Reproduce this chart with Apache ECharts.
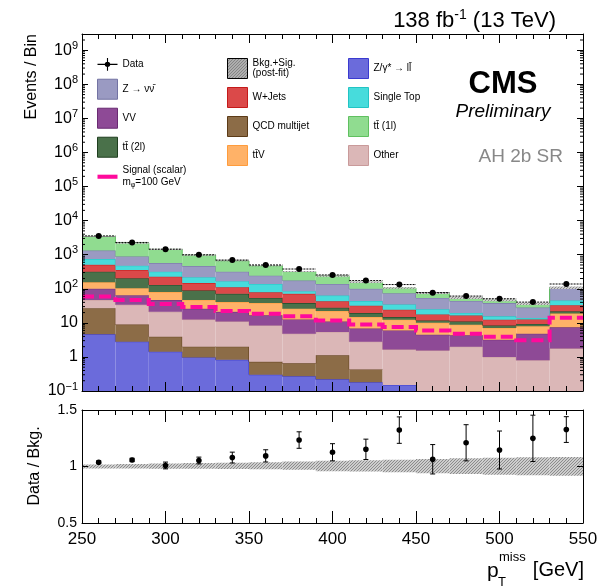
<!DOCTYPE html>
<html>
<head>
<meta charset="utf-8">
<script src="https://cdn.jsdelivr.net/npm/echarts@6/dist/echarts.min.js"></script>
<style>
  html, body { margin: 0; padding: 0; background: #fff; }
  #chart { width: 601px; height: 587px; }
</style>
</head>
<body>
<div id="chart"></div>
<script>
// Binning in missing transverse momentum [GeV]
const binEdges = [250, 270, 290, 310, 330, 350, 370, 390, 410, 430, 450, 470, 490, 510, 530, 550];

// Background yields per bin (events / bin), listed from the bottom of the stack upwards
const zll   = [4.6, 2.8, 1.42, 0.97, 0.82, 0.30, 0.27, 0.22, 0.18, 0.15, 0, 0, 0, 0, 0];
const qcd   = [22.4, 6.1, 2.5, 1.03, 1.18, 0.42, 0.38, 0.90, 0.25, 0, 0, 0, 0, 0, 0];
const other = [20, 25, 17.1, 10.5, 9.0, 7.7, 4.15, 4.3, 2.37, 1.5, 1.55, 2.0, 1.0, 0.8, 1.77];
const vv    = [53, 31, 26, 13.5, 10, 8.2, 7.8, 5.6, 4.0, 4.35, 2.95, 2.3, 2.2, 4.0, 5.6];
const ttv   = [55, 39, 33, 21, 19.6, 21.4, 13.4, 11.3, 8.0, 6.4, 5.5, 4.5, 3.9, 3.2, 11.6];
const tt2l  = [162, 100, 50, 42, 30.4, 16, 12, 5.4, 4.6, 2.4, 1.8, 2.2, 1.3, 1.3, 3];
const wjets = [188, 151, 97, 58, 40, 25, 33, 15.3, 12.6, 9.5, 5.9, 5.5, 4.0, 3.3, 11];
const stop  = [240, 120, 90, 71, 56, 59, 14, 20, 11.6, 10.3, 7.3, 3.0, 3.1, 1.3, 12];
const znn   = [575, 415, 253, 247, 150, 105, 89, 75, 56, 39.4, 29, 24.5, 22.5, 14.1, 60];
const tt1l  = [2130, 1310, 860, 495, 343, 227, 146, 97, 55, 31, 21, 10, 8, 8, 3];

// Observed events and the scalar mediator signal (m_phi = 100 GeV)
const dataYield   = [3550, 2290, 1455, 994, 697, 500, 380, 254, 174, 133, 77, 61, 51, 40.6, 138];
const signalYield = [59, 47, 36, 29, 22.3, 18.5, 15.5, 11.8, 9.0, 7.6, 6.0, 4.8, 3.9, 3.1, 14.2];

// Lower panel: data / background with statistical errors, and the post-fit band
const ratioValue = [1.038, 1.058, 1.009, 1.053, 1.079, 1.094, 1.234, 1.126, 1.152, 1.322, 1.064, 1.21, 1.146, 1.249, 1.327];
const ratioError = [0.012, 0.015, 0.03, 0.03, 0.048, 0.054, 0.073, 0.076, 0.09, 0.117, 0.13, 0.16, 0.168, 0.205, 0.114];
const bandLow  = [0.982, 0.982, 0.981, 0.98, 0.978, 0.976, 0.972, 0.958, 0.955, 0.95, 0.94, 0.933, 0.928, 0.922, 0.918];
const bandHigh = [1.018, 1.022, 1.026, 1.03, 1.034, 1.038, 1.044, 1.05, 1.055, 1.06, 1.066, 1.072, 1.077, 1.082, 1.085];

// Axis tick values
const xTicks = [250, 300, 350, 400, 450, 500, 550];
const ratioTicks = [0.5, 1, 1.5];

const FONT = '"Liberation Sans", Arial, Helvetica, sans-serif';
const LOGMIN = -1;                 // 10^-1
const LOGMAX = Math.log10(3e9);    // top of the upper panel
const lg = v => (v > 0 ? Math.max(Math.log10(v), LOGMIN - 1) : LOGMIN - 1);
const nBins = binEdges.length - 1;

const NAMES = {
  data: 'Data', band: 'Bkg.+Sig. (post-fit)', zll: 'Z/γ* → ll̄', znn: 'Z → νν̄',
  w: 'W+Jets', st: 'Single Top', vv: 'VV', qcd: 'QCD multijet',
  tt1: 'tt̄ (1l)', tt2: 'tt̄ (2l)', ttv: 'tt̄V', other: 'Other', sig: 'Signal (scalar)'
};

const processes = [
  { name: NAMES.zll,   values: zll,   color: '#6b6bdb', border: '#3a3ad0' },
  { name: NAMES.qcd,   values: qcd,   color: '#8c6c47', border: '#5c3b17' },
  { name: NAMES.other, values: other, color: '#dbb7b7', border: '#c99a9a' },
  { name: NAMES.vv,    values: vv,    color: '#8e4a96', border: '#6a2a72' },
  { name: NAMES.ttv,   values: ttv,   color: '#ffb268', border: '#ff9c3c' },
  { name: NAMES.tt2,   values: tt2l,  color: '#4a714a', border: '#1f3f1f' },
  { name: NAMES.w,     values: wjets, color: '#db4949', border: '#c41a1a' },
  { name: NAMES.st,    values: stop,  color: '#47dcdc', border: '#22c4c4' },
  { name: NAMES.znn,   values: znn,   color: '#9a9ac2', border: '#7373a3' },
  { name: NAMES.tt1,   values: tt1l,  color: '#90dc90', border: '#60c060' }
];

// cumulative stack boundaries
let running = new Array(nBins).fill(0);
processes.forEach(p => {
  p.lower = running.slice();
  running = running.map((v, i) => v + p.values[i]);
  p.upper = running.slice();
});
const bkgTotal = running;

// hatch patterns
function hatch(stroke, bg, step) {
  const c = document.createElement('canvas');
  c.width = c.height = step;
  const ctx = c.getContext('2d');
  if (bg) { ctx.fillStyle = bg; ctx.fillRect(0, 0, step, step); }
  ctx.strokeStyle = stroke;
  ctx.lineWidth = 1;
  ctx.beginPath();
  ctx.moveTo(0, step); ctx.lineTo(step, 0);
  ctx.moveTo(-1, 1); ctx.lineTo(1, -1);
  ctx.moveTo(step - 1, step + 1); ctx.lineTo(step + 1, step - 1);
  ctx.stroke();
  return { image: c, repeat: 'repeat' };
}
const hatchDark = hatch('#333', '#d8d8d8', 3);
const hatchGrey = hatch('#8c8c8c', '#cdcdcd', 3);

// ---- series ----
const series = [];

processes.forEach(p => {
  series.push({
    type: 'custom', name: p.name, xAxisIndex: 0, yAxisIndex: 0, z: 2, clip: true, silent: true,
    itemStyle: { color: p.color, borderColor: p.border },
    encode: { x: [0, 1], y: [2, 3] },
    data: p.values.map((_, i) => [binEdges[i], binEdges[i + 1], lg(p.lower[i]), lg(p.upper[i]), i > 0 ? lg(p.upper[i - 1]) : lg(p.upper[i])]),
    renderItem: (params, api) => {
      const x0 = api.value(0), x1 = api.value(1), yb = api.value(2), yt = api.value(3), yp = api.value(4);
      if (!(yt > yb)) return null;
      const tl = api.coord([x0, yt]), br = api.coord([x1, yb]);
      const children = [
        { type: 'rect', shape: { x: tl[0], y: tl[1], width: br[0] - tl[0], height: br[1] - tl[1] }, style: { fill: p.color } },
        { type: 'line', shape: { x1: tl[0], y1: tl[1], x2: br[0], y2: tl[1] }, style: { stroke: p.border, lineWidth: 1 } }
      ];
      if (params.dataIndex > 0) {
        const pp = api.coord([x0, yp]);
        children.push({ type: 'line', shape: { x1: tl[0], y1: pp[1], x2: tl[0], y2: tl[1] }, style: { stroke: p.border, lineWidth: 1 } });
      }
      return { type: 'group', children };
    }
  });
});

// post-fit uncertainty band on top of the stack
series.push({
  type: 'custom', name: NAMES.band, xAxisIndex: 0, yAxisIndex: 0, z: 3, clip: true, silent: true,
  itemStyle: { color: hatchDark },
  encode: { x: [0, 1], y: [2, 3] },
  data: bkgTotal.map((t, i) => [binEdges[i], binEdges[i + 1], lg(t * bandLow[i]), lg(t * bandHigh[i])]),
  renderItem: (params, api) => {
    const tl = api.coord([api.value(0), api.value(3)]), br = api.coord([api.value(1), api.value(2)]);
    return { type: 'rect', shape: { x: tl[0], y: tl[1], width: br[0] - tl[0], height: Math.max(br[1] - tl[1], 1) }, style: { fill: hatchGrey } };
  }
});

// signal step line
series.push({
  type: 'custom', name: NAMES.sig, xAxisIndex: 0, yAxisIndex: 0, z: 4, clip: true, silent: true,
  itemStyle: { color: '#ff0a9c' },
  encode: { x: 0, y: 1 },
  data: [[binEdges[0], lg(signalYield[0])]],
  renderItem: (params, api) => {
    const pts = [];
    signalYield.forEach((s, i) => {
      pts.push(api.coord([binEdges[i], lg(s)]));
      pts.push(api.coord([binEdges[i + 1], lg(s)]));
    });
    return { type: 'polyline', shape: { points: pts }, style: { stroke: '#ff0a9c', lineWidth: 4, lineDash: [12, 5], fill: null } };
  }
});

// observed data
series.push({
  type: 'custom', name: NAMES.data, xAxisIndex: 0, yAxisIndex: 0, z: 5, clip: true, silent: true,
  itemStyle: { color: '#000' },
  encode: { x: [0, 1], y: 2 },
  data: dataYield.map((d, i) => [binEdges[i], binEdges[i + 1], lg(d)]),
  renderItem: (params, api) => {
    const a = api.coord([api.value(0), api.value(2)]), b = api.coord([api.value(1), api.value(2)]);
    return { type: 'group', children: [
      { type: 'line', shape: { x1: a[0], y1: a[1], x2: b[0], y2: b[1] }, style: { stroke: '#000', lineWidth: 1, lineDash: [2, 1] } },
      { type: 'circle', shape: { cx: (a[0] + b[0]) / 2, cy: a[1], r: 3 }, style: { fill: '#000' } }
    ]};
  }
});

// minor ticks of the logarithmic axis (2..9 x 10^n), on both sides
const minorLogTicks = [];
for (let n = -1; n <= 9; n++) for (let k = 2; k <= 9; k++) {
  const v = Math.log10(k) + n;
  if (v < LOGMAX) minorLogTicks.push([250, v]);
}
series.push({
  type: 'custom', xAxisIndex: 0, yAxisIndex: 0, z: 11, silent: true,
  encode: { x: 0, y: 1 },
  data: minorLogTicks,
  renderItem: (params, api) => {
    const l = api.coord([250, api.value(1)]), r = api.coord([550, api.value(1)]);
    return { type: 'group', children: [
      { type: 'line', shape: { x1: l[0], y1: l[1], x2: l[0] + 3, y2: l[1] }, style: { stroke: '#000', lineWidth: 1 } },
      { type: 'line', shape: { x1: r[0], y1: r[1], x2: r[0] - 3, y2: r[1] }, style: { stroke: '#000', lineWidth: 1 } }
    ]};
  }
});

// ratio band
series.push({
  type: 'custom', xAxisIndex: 2, yAxisIndex: 2, z: 2, clip: true, silent: true,
  encode: { x: [0, 1], y: [2, 3] },
  data: bandLow.map((lo, i) => [binEdges[i], binEdges[i + 1], lo, bandHigh[i]]),
  renderItem: (params, api) => {
    const tl = api.coord([api.value(0), api.value(3)]), br = api.coord([api.value(1), api.value(2)]);
    return { type: 'rect', shape: { x: tl[0], y: tl[1], width: br[0] - tl[0], height: br[1] - tl[1] }, style: { fill: hatchGrey } };
  }
});

// ratio points
series.push({
  type: 'custom', xAxisIndex: 2, yAxisIndex: 2, z: 5, clip: true, silent: true,
  encode: { x: 0, y: 1 },
  data: ratioValue.map((r, i) => [(binEdges[i] + binEdges[i + 1]) / 2, r, ratioError[i]]),
  renderItem: (params, api) => {
    const x = api.value(0), r = api.value(1), e = api.value(2);
    const c = api.coord([x, r]), top = api.coord([x, r + e]), bot = api.coord([x, r - e]);
    return { type: 'group', children: [
      { type: 'line', shape: { x1: c[0], y1: top[1], x2: c[0], y2: bot[1] }, style: { stroke: '#000', lineWidth: 1 } },
      { type: 'line', shape: { x1: c[0] - 2.5, y1: top[1], x2: c[0] + 2.5, y2: top[1] }, style: { stroke: '#000', lineWidth: 1 } },
      { type: 'line', shape: { x1: c[0] - 2.5, y1: bot[1], x2: c[0] + 2.5, y2: bot[1] }, style: { stroke: '#000', lineWidth: 1 } },
      { type: 'circle', shape: { cx: c[0], cy: c[1], r: 2.8 }, style: { fill: '#000' } }
    ]};
  }
});

// ---- axes ----
const axisLine = { show: true, onZero: false, lineStyle: { color: '#000', width: 1 } };
function xAxis(grid, pos, major, minor, showLabels) {
  return {
    type: 'value', gridIndex: grid, position: pos, min: xTicks[0], max: xTicks[xTicks.length - 1],
    interval: xTicks[1] - xTicks[0], z: 10,
    axisLine,
    axisTick: { show: true, inside: true, length: major, lineStyle: { color: '#000', width: 1 } },
    minorTick: { show: true, splitNumber: 5, length: minor, lineStyle: { color: '#000', width: 1 } },
    splitLine: { show: false }, minorSplitLine: { show: false },
    axisLabel: showLabels ? { show: true, fontFamily: FONT, fontSize: 17, color: '#000', margin: 8 } : { show: false }
  };
}
const logLabel = v => {
  const n = Math.round(v);
  if (Math.abs(v - n) > 1e-6) return '';
  if (n === 0) return '{b|1}';
  if (n === 1) return '{b|10}';
  return '{b|10}{e|' + (n < 0 ? '−' + (-n) : n) + '}';
};
function logAxis(pos, labels) {
  return {
    type: 'value', gridIndex: 0, position: pos, min: LOGMIN, max: LOGMAX, interval: 1, z: 10,
    axisLine,
    axisTick: { show: true, inside: true, length: 6, lineStyle: { color: '#000', width: 1 } },
    splitLine: { show: false },
    axisLabel: labels ? {
      show: true, margin: 4, formatter: logLabel, showMaxLabel: false,
      rich: {
        b: { fontFamily: FONT, fontSize: 16, color: '#000', lineHeight: 20 },
        e: { fontFamily: FONT, fontSize: 11, color: '#000', lineHeight: 11, verticalAlign: 'top' }
      }
    } : { show: false }
  };
}
function ratioAxis(pos, labels) {
  return {
    type: 'value', gridIndex: 1, position: pos, min: ratioTicks[0], max: ratioTicks[ratioTicks.length - 1],
    interval: ratioTicks[1] - ratioTicks[0], z: 10,
    axisLine,
    axisTick: { show: true, inside: true, length: 6, lineStyle: { color: '#000', width: 1 } },
    splitLine: { show: false },
    axisLabel: labels ? { show: true, fontFamily: FONT, fontSize: 14, color: '#000', margin: 5 } : { show: false }
  };
}

// ---- legend ----
const legendText = {};
legendText[NAMES.band] = 'Bkg.+Sig.\n(post-fit)';
legendText[NAMES.sig] = '{t|Signal (scalar)}\n{t|m}{s|φ}{t|=100 GeV}';
const boxItem = p => ({ name: p.name, icon: 'rect', itemStyle: { color: p.color, borderColor: p.border, borderWidth: 1 } });
const procByName = {};
processes.forEach(p => { procByName[p.name] = p; });
const legendBase = {
  orient: 'vertical', top: 58, itemWidth: 20, itemHeight: 20, itemGap: 8, padding: 0, selectedMode: false,
  formatter: name => legendText[name] || name,
  textStyle: {
    fontFamily: FONT, fontSize: 10, color: '#000',
    rich: {
      t: { fontFamily: FONT, fontSize: 10, color: '#000', lineHeight: 12 },
      s: { fontFamily: FONT, fontSize: 7, color: '#000', lineHeight: 8, verticalAlign: 'bottom' }
    }
  }
};
const dataIcon = 'path://M0,9.4H22V10.6H0Z M10.4,3H11.6V17H10.4Z M14,10A3,3 0 1 1 8,10A3,3 0 1 1 14,10Z';
const legends = [
  Object.assign({}, legendBase, { left: 97, data: [
    { name: NAMES.data, icon: dataIcon, itemStyle: { color: '#000' } },
    boxItem(procByName[NAMES.znn]), boxItem(procByName[NAMES.vv]), boxItem(procByName[NAMES.tt2]),
    { name: NAMES.sig, icon: 'path://M0,0H22V4.5H0Z', itemStyle: { color: '#ff0a9c' } }
  ]}),
  Object.assign({}, legendBase, { left: 227, data: [
    { name: NAMES.band, icon: 'rect', itemStyle: { color: hatchDark, borderColor: '#000', borderWidth: 1 }, textStyle: { lineHeight: 10 } },
    boxItem(procByName[NAMES.w]), boxItem(procByName[NAMES.qcd]), boxItem(procByName[NAMES.ttv])
  ]}),
  Object.assign({}, legendBase, { left: 348, data: [
    boxItem(procByName[NAMES.zll]), boxItem(procByName[NAMES.st]), boxItem(procByName[NAMES.tt1]), boxItem(procByName[NAMES.other])
  ]})
];

// ---- text annotations ----
function txt(x, y, text, extra, rot) {
  return {
    type: 'text', x, y, rotation: rot || 0, z: 20, silent: true,
    style: Object.assign({ text, fontFamily: FONT, fill: '#000', align: 'left', verticalAlign: 'middle',
      textAlign: 'left', textVerticalAlign: 'middle' }, extra)
  };
}
const graphics = [
  txt(556, 21, '{a|138 fb}{s|-1}{a| (13 TeV)}', {
    align: 'right', textAlign: 'right',
    rich: { a: { fontFamily: FONT, fontSize: 22, lineHeight: 26, fill: '#000' },
            s: { fontFamily: FONT, fontSize: 14, lineHeight: 14, verticalAlign: 'top', fill: '#000' } }
  }),
  txt(503, 84, 'CMS', { fontSize: 31, fontWeight: 'bold', align: 'center', textAlign: 'center' }),
  txt(503, 112, 'Preliminary', { fontSize: 19, fontStyle: 'italic', align: 'center', textAlign: 'center' }),
  txt(563, 157, 'AH 2b SR', { fontSize: 19, fill: '#888', align: 'right', textAlign: 'right' }),
  txt(32, 34, 'Events / Bin', { fontSize: 16, align: 'right', textAlign: 'right' }, Math.PI / 2),
  txt(35, 466, 'Data / Bkg.', { fontSize: 16, align: 'center', textAlign: 'center' }, Math.PI / 2),
  txt(487, 571, 'p', { fontSize: 21 }),
  txt(499, 557, 'miss', { fontSize: 13 }),
  txt(498, 582, 'T', { fontSize: 13 }),
  txt(584, 570, '[GeV]', { fontSize: 20, align: 'right', textAlign: 'right' })
];

const option = {
  animation: false,
  backgroundColor: '#fff',
  grid: [
    { left: 82, top: 34, width: 501, height: 357 },
    { left: 82, top: 410, width: 501, height: 113 }
  ],
  xAxis: [
    xAxis(0, 'bottom', 9, 5, false),
    xAxis(0, 'top', 9, 5, false),
    xAxis(1, 'bottom', 12, 5, true),
    xAxis(1, 'top', 12, 5, false)
  ],
  yAxis: [
    logAxis('left', true),
    logAxis('right', false),
    ratioAxis('left', true),
    ratioAxis('right', false)
  ],
  legend: legends,
  graphic: { elements: graphics },
  series
};

const chart = echarts.init(document.getElementById('chart'));
chart.setOption(option);
</script>
</body>
</html>
